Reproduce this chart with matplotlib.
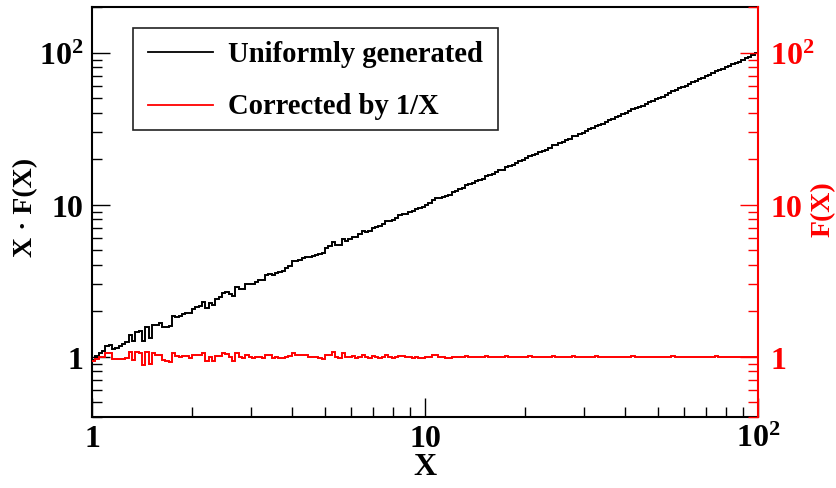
import numpy as np
import matplotlib
matplotlib.use('Agg')
import matplotlib.pyplot as plt
from matplotlib.ticker import LogLocator, FixedLocator, FixedFormatter, NullFormatter
from matplotlib.lines import Line2D
from matplotlib.patches import Rectangle

plt.rcParams['font.family'] = ['Liberation Serif', 'DejaVu Serif']
plt.rcParams['font.weight'] = 'bold'
plt.rcParams['mathtext.fontset'] = 'custom'
plt.rcParams['mathtext.rm'] = 'Liberation Serif:bold'
plt.rcParams['mathtext.bf'] = 'Liberation Serif:bold'
plt.rcParams['mathtext.default'] = 'bf'

# ---------------- data ----------------
x_range = (1, 100)
n_bins = 200
y_range = (0.4, 200)

# black histogram: X * F(X), uniformly generated (left axis)
uniform_xfx = [
    0.951, 1.004, 1.049, 1.084, 1.176, 1.192, 1.127, 1.141, 1.168, 1.207,
    1.248, 1.394, 1.267, 1.460, 1.480, 1.257, 1.565, 1.332, 1.608, 1.614,
    1.651, 1.559, 1.561, 1.580, 1.863, 1.817, 1.841, 1.902, 1.947, 1.933,
    2.059, 2.107, 2.156, 2.292, 2.080, 2.265, 2.178, 2.395, 2.451, 2.607,
    2.643, 2.574, 2.501, 2.859, 2.786, 2.794, 3.005, 2.985, 2.994, 3.095,
    3.167, 3.208, 3.417, 3.496, 3.437, 3.553, 3.599, 3.683, 3.807, 3.975,
    4.229, 4.245, 4.344, 4.445, 4.548, 4.519, 4.624, 4.684, 4.745, 4.806,
    5.222, 5.344, 5.680, 5.433, 5.448, 5.973, 5.763, 5.897, 6.156, 6.113,
    6.383, 6.662, 6.617, 6.702, 7.068, 7.161, 7.182, 7.499, 7.827, 7.774,
    7.875, 8.222, 8.498, 8.696, 8.722, 8.926, 9.041, 9.346, 9.467, 9.688,
    10.01, 10.25, 10.80, 11.06, 11.09, 11.24, 11.38, 11.65, 12.04, 12.32,
    12.74, 12.90, 13.47, 13.65, 13.82, 14.29, 14.48, 14.81, 15.46, 15.67,
    15.87, 16.41, 16.79, 17.01, 17.75, 17.99, 18.22, 18.84, 19.28, 19.53,
    20.18, 20.86, 21.14, 21.41, 22.13, 22.65, 22.94, 23.71, 24.51, 24.83,
    25.41, 25.74, 26.61, 27.23, 28.14, 28.51, 29.17, 29.56, 30.55, 31.26,
    31.99, 33.06, 33.50, 33.93, 35.08, 35.89, 36.73, 37.58, 38.07, 39.36,
    40.27, 41.21, 42.59, 43.15, 44.16, 44.73, 46.24, 47.32, 48.42, 49.55,
    50.70, 51.36, 53.09, 54.33, 56.15, 56.89, 58.21, 59.57, 60.34, 62.37,
    63.83, 65.31, 66.83, 68.39, 69.98, 70.90, 73.28, 75.74, 76.74, 78.52,
    80.35, 82.22, 84.14, 86.10, 87.22, 90.16, 92.26, 94.41, 96.61, 98.86,
]

# red histogram: F(X), corrected by 1/X (right axis)
corrected_fx = [
    0.94, 0.97, 0.99, 1.00, 1.06, 1.05, 0.97, 0.96, 0.96, 0.97,
    0.98, 1.07, 0.95, 1.07, 1.06, 0.88, 1.07, 0.89, 1.05, 1.03,
    1.03, 0.95, 0.93, 0.92, 1.06, 1.01, 1.00, 1.01, 1.01, 0.98,
    1.02, 1.02, 1.02, 1.06, 0.94, 1.00, 0.94, 1.01, 1.01, 1.05,
    1.04, 0.99, 0.94, 1.05, 1.00, 0.98, 1.03, 1.00, 0.98, 0.99,
    0.99, 0.98, 1.02, 1.02, 0.98, 0.99, 0.98, 0.98, 0.99, 1.01,
    1.05, 1.03, 1.03, 1.03, 1.03, 1.00, 1.00, 0.99, 0.98, 0.97,
    1.03, 1.03, 1.07, 1.00, 0.98, 1.05, 0.99, 0.99, 1.01, 0.98,
    1.00, 1.02, 0.99, 0.98, 1.01, 1.00, 0.98, 1.00, 1.02, 0.99,
    0.98, 1.00, 1.01, 1.01, 0.99, 0.99, 0.98, 0.99, 0.98, 0.98,
    0.99, 0.99, 1.02, 1.02, 1.00, 0.99, 0.98, 0.98, 0.99, 0.99,
    1.00, 0.99, 1.01, 1.00, 0.99, 1.00, 0.99, 0.99, 1.01, 1.00,
    0.99, 1.00, 1.00, 0.99, 1.01, 1.00, 0.99, 1.00, 1.00, 0.99,
    1.00, 1.01, 1.00, 0.99, 1.00, 1.00, 0.99, 1.00, 1.01, 1.00,
    1.00, 0.99, 1.00, 1.00, 1.01, 1.00, 1.00, 0.99, 1.00, 1.00,
    1.00, 1.01, 1.00, 0.99, 1.00, 1.00, 1.00, 1.00, 0.99, 1.00,
    1.00, 1.00, 1.01, 1.00, 1.00, 0.99, 1.00, 1.00, 1.00, 1.00,
    1.00, 0.99, 1.00, 1.00, 1.01, 1.00, 1.00, 1.00, 0.99, 1.00,
    1.00, 1.00, 1.00, 1.00, 1.00, 0.99, 1.00, 1.01, 1.00, 1.00,
    1.00, 1.00, 1.00, 1.00, 0.99, 1.00, 1.00, 1.00, 1.00, 1.00,
]

major_ticks = [1, 10, 100]
major_labels = ['1', '10', r'$10^{2}$']
series_labels = ['Uniformly generated', 'Corrected by 1/X']
x_title = 'X'
y_left_title = 'X \u00b7 F(X)'
y_right_title = 'F(X)'

# ---------------- plot ----------------
W, H = 837, 489
fig = plt.figure(figsize=(W / 100, H / 100), dpi=100)
L, R, T, B = 92, 758, 8, 418
ax = fig.add_axes([L / W, 1 - B / H, (R - L) / W, (B - T) / H])
ax2 = ax.twinx()

edges = np.logspace(np.log10(x_range[0]), np.log10(x_range[1]), n_bins + 1)
ax.stairs(uniform_xfx, edges, color='black', lw=1.4, baseline=None)
ax2.stairs(corrected_fx, edges, color='red', lw=1.4, baseline=None)

for a in (ax, ax2):
    a.set_xscale('log')
    a.set_yscale('log')
    a.set_xlim(*x_range)
    a.set_ylim(*y_range)

fs_tick = 23
ax.xaxis.set_major_locator(FixedLocator(major_ticks))
ax.xaxis.set_major_formatter(FixedFormatter(major_labels))
ax.xaxis.set_minor_locator(LogLocator(base=10, subs=np.arange(2, 10)))
ax.xaxis.set_minor_formatter(NullFormatter())
for a in (ax, ax2):
    a.yaxis.set_major_locator(FixedLocator(major_ticks))
    a.yaxis.set_major_formatter(FixedFormatter(major_labels))
    a.yaxis.set_minor_locator(LogLocator(base=10, subs=np.arange(2, 10)))
    a.yaxis.set_minor_formatter(NullFormatter())

ax.tick_params(axis='x', which='both', direction='in', top=False, bottom=True,
               labelsize=fs_tick, pad=5, width=1.0)
ax.tick_params(axis='x', which='major', length=14)
ax.tick_params(axis='x', which='minor', length=7)
ax.tick_params(axis='y', which='both', direction='in', left=True, right=False,
               labelsize=fs_tick, pad=6, width=1.0)
ax.tick_params(axis='y', which='major', length=13)
ax.tick_params(axis='y', which='minor', length=7)
ax2.tick_params(axis='y', which='both', direction='in', left=False, right=True,
                labelsize=fs_tick, pad=9, width=1.0, colors='red')
ax2.tick_params(axis='y', which='major', length=13)
ax2.tick_params(axis='y', which='minor', length=7)

for s in ('left', 'bottom', 'top'):
    ax.spines[s].set_linewidth(1.5)
    ax.spines[s].set_color('black')
ax.spines['right'].set_visible(False)
for s in ('left', 'bottom', 'top'):
    ax2.spines[s].set_visible(False)
ax2.spines['right'].set_color('red')
ax2.spines['right'].set_linewidth(1.5)

fig.text(425 / W, 1 - 468 / H, x_title, ha='center', va='center', fontsize=23)
fig.text(26 / W, 1 - 207 / H, y_left_title, ha='center', va='center',
         rotation=90, fontsize=20)
fig.text(823 / W, 1 - 209 / H, y_right_title, ha='center', va='center',
         rotation=90, fontsize=20, color='red')

# legend box
lx0, lx1, ly0, ly1 = 133, 498, 29, 131
fig.add_artist(Rectangle((lx0 / W, 1 - ly1 / H), (lx1 - lx0) / W, (ly1 - ly0) / H,
                         transform=fig.transFigure, facecolor='white',
                         edgecolor='#222222', lw=1.2, zorder=5))
for lab, col, yy in zip(series_labels, ['black', 'red'], [53, 106]):
    fig.add_artist(Line2D([148 / W, 213 / W], [1 - yy / H] * 2, color=col, lw=1.3,
                          transform=fig.transFigure, zorder=6))
    fig.text(228 / W, 1 - (yy + 1) / H, lab, ha='left', va='center', fontsize=20.6,
             zorder=7)

fig.savefig('out.png', dpi=100)
